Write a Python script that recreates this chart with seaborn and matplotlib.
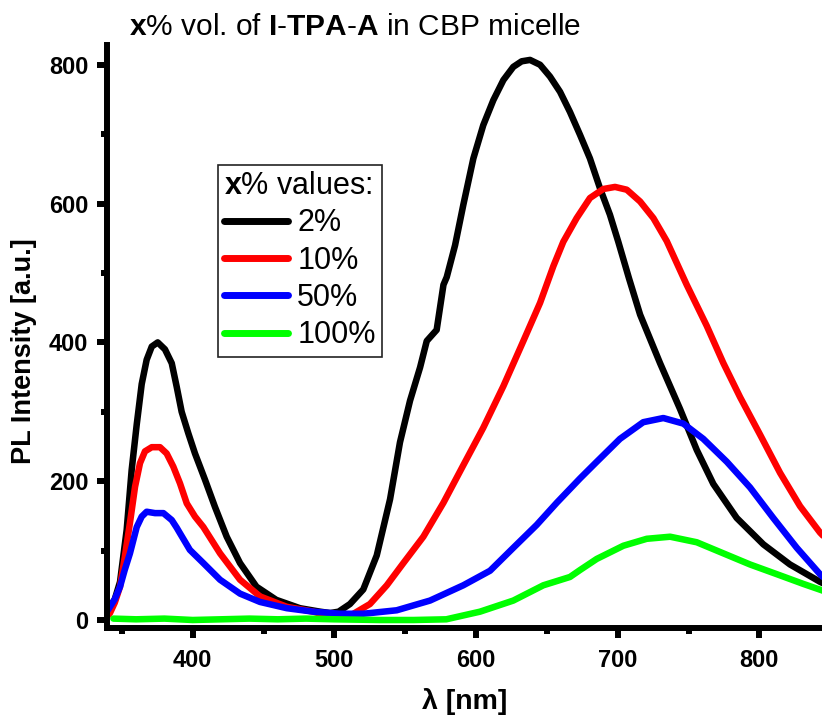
import numpy as np
import pandas as pd
import matplotlib
matplotlib.use("Agg")
import matplotlib.pyplot as plt
import seaborn as sns
from matplotlib.ticker import MultipleLocator
from matplotlib.lines import Line2D

# ---------------- data ----------------
series_labels = ["2%", "10%", "50%", "100%"]
series_colors = ["#000000", "#FF0000", "#0000FF", "#00FF00"]

wl_2 = [340, 341.6, 345, 348.7, 353.4, 356.9, 360.5, 364, 367.5, 371.1, 375.3, 380.4,
        385.2, 388.7, 392.2, 396.9, 401.6, 408.7, 415.7, 424, 433.4, 445, 459, 475.7,
        489.9, 497, 503, 511, 520.4, 529.9, 539.3, 546.3, 553.4, 560.5, 565.2, 572.2,
        577, 579.3, 585.2, 591, 598.1, 605.1, 612.2, 619.3, 626.3, 632.2, 638.1, 645.2,
        652.2, 659.3, 666.3, 673.4, 680.4, 687.5, 694.5, 700.4, 708, 715.8, 729.9, 744,
        755.8, 767.5, 784, 802.8, 821.6, 842.8, 848]
pl_2 = [12, 19, 30, 55, 130, 216, 282, 340, 375, 394, 400, 390,
        370, 336, 300, 269, 240, 202, 163, 120, 82, 48, 29, 17,
        12, 10, 12, 23, 44, 93, 174, 256, 316, 364, 402, 418,
        483, 494, 540, 598, 665, 713, 749, 778, 797, 805, 807, 800,
        783, 761, 732, 699, 665, 622, 584, 545, 492, 440, 370, 304,
        245, 196, 147, 109, 80, 55, 50]

wl_10 = [340, 341.6, 345, 348.7, 352, 355.7, 359.3, 362.8, 366.3, 371.1, 376.9, 381.6,
         386.3, 391, 395.8, 401.6, 407.5, 419.3, 433.4, 447.5, 466.4, 485.1, 496.9, 511,
         525.1, 537, 548.7, 562.8, 577, 591, 605.1, 619.3, 633.4, 645.2, 654.6, 661.6,
         671, 680.4, 689.8, 698.1, 706.4, 715.8, 725.2, 734.6, 748.7, 762.8, 774.6,
         786.4, 800.5, 814.6, 828.7, 842.8, 848]
pl_10 = [6, 10, 25, 48, 90, 140, 192, 226, 243, 249, 249, 240,
         221, 197, 168, 149, 134, 96, 58, 34, 19, 12, 5, 6,
         23, 50, 82, 120, 169, 223, 277, 337, 402, 457, 510, 545,
         579, 608, 621, 624, 620, 603, 579, 546, 483, 424, 370,
         321, 267, 212, 164, 126, 115]

wl_50 = [340, 341.6, 345, 348.7, 352, 355.7, 360.5, 364, 367.5, 373.4, 379.3, 385.2,
         388.7, 391, 398, 407.5, 419.3, 433.4, 447.5, 466.4, 485.1, 504, 520.4, 544,
         567.5, 591, 609.9, 626.3, 642.8, 657, 673.4, 685.2, 701.6, 718, 732.2, 746.3,
         760.4, 777, 793.4, 809.8, 826.4, 842.8, 848]
pl_50 = [14, 19, 30, 48, 72, 96, 134, 149, 156, 154, 154, 144,
         133, 125, 101, 82, 58, 38, 26, 17, 12, 9, 9, 14,
         28, 50, 71, 104, 137, 169, 204, 228, 261, 285, 291, 283,
         261, 228, 191, 147, 104, 66, 56]

wl_100 = [344, 360, 380, 400, 420, 440, 460, 480, 500, 532, 556, 579, 602.8, 626.3,
          647.5, 666.3, 673.4, 685.2, 704, 720.5, 737, 755.8, 774.6, 793.4, 812.3, 831, 848]
pl_100 = [2, 1, 2, 0, 1, 2, 1, 2, 1, 0, 0, 1, 12, 28,
          50, 62, 72, 88, 107, 117, 120, 112, 96, 80, 66, 52, 40]

x_ticks = [400, 500, 600, 700, 800]
y_ticks = [0, 200, 400, 600, 800]

frames = []
for lab, w, p in zip(series_labels, [wl_2, wl_10, wl_50, wl_100], [pl_2, pl_10, pl_50, pl_100]):
    frames.append(pd.DataFrame({"wl": w, "pl": p, "series": lab}))
df = pd.concat(frames, ignore_index=True)

# ---------------- style ----------------
sns.set_theme(style="ticks")
plt.rcParams["font.family"] = ["Liberation Sans", "DejaVu Sans"]
plt.rcParams["mathtext.fontset"] = "custom"
plt.rcParams["mathtext.rm"] = "Liberation Sans"
plt.rcParams["mathtext.bf"] = "Liberation Sans:bold"
plt.rcParams["mathtext.it"] = "Liberation Sans:italic"
plt.rcParams["text.color"] = "black"
plt.rcParams["axes.labelcolor"] = "black"
plt.rcParams["xtick.color"] = "black"
plt.rcParams["ytick.color"] = "black"
plt.rcParams["legend.labelcolor"] = "black"

W, H = 822, 723
fig = plt.figure(figsize=(W / 100, H / 100), dpi=100)
ax_l, ax_r, ax_t, ax_b = 107, 822, 45, 627.7
ax = fig.add_axes([ax_l / W, (H - ax_b) / H, (ax_r - ax_l) / W, (ax_b - ax_t) / H])

palette = dict(zip(series_labels, series_colors))
sns.lineplot(data=df, x="wl", y="pl", hue="series", hue_order=series_labels,
             palette=palette, estimator=None, sort=True, lw=4.7, ax=ax, legend=False,
             solid_joinstyle="round", solid_capstyle="round")

ax.set_xlim(339.5, 844.2)
ax.set_ylim(-11.1, 828.5)
ax.set_xticks(x_ticks)
ax.set_yticks(y_ticks)
ax.xaxis.set_minor_locator(MultipleLocator(50))
ax.yaxis.set_minor_locator(MultipleLocator(100))

for s in ["top", "right"]:
    ax.spines[s].set_visible(False)
for s in ["left", "bottom"]:
    ax.spines[s].set_linewidth(4.3)
    ax.spines[s].set_color("black")

ax.tick_params(which="major", direction="out", length=7.5, width=4.3, color="black",
               labelsize=17, labelcolor="black")
ax.tick_params(which="minor", direction="out", length=4, width=4.3, color="black")
ax.tick_params(axis="x", which="major", pad=8)
ax.tick_params(axis="y", which="major", pad=6)
for lbl in ax.get_xticklabels() + ax.get_yticklabels():
    lbl.set_fontweight("bold")

ax.set_xlabel("λ [nm]", fontsize=20.5, fontweight="bold", color="black")
ax.set_ylabel("PL Intensity [a.u.]", fontsize=19.5, fontweight="bold", color="black")
ax.xaxis.set_label_coords(0.5, -0.1035)
ax.yaxis.set_label_coords(-0.098, 0.475)

fig.text(129 / W, 1 - 35 / H,
         r"$\mathbf{x}$% vol. of $\mathbf{I}$-$\mathbf{TPA}$-$\mathbf{A}$ in CBP micelle",
         ha="left", va="baseline", fontsize=21.5, color="black")

handles = [Line2D([], [], color=c, lw=5, solid_capstyle="round") for c in series_colors]
leg = ax.legend(handles, series_labels, title=r"$\mathbf{x}$% values:",
                loc="upper left", bbox_to_anchor=(217.7 / W, 1 - 165 / H),
                bbox_transform=fig.transFigure, fontsize=22, title_fontsize=22,
                frameon=True, fancybox=False, edgecolor="#222222", framealpha=1,
                borderpad=0.2, borderaxespad=0, handlelength=2.1, handletextpad=0.3,
                labelspacing=0.24, alignment="left", labelcolor="black")
leg.get_title().set_color("black")
leg.get_frame().set_linewidth(1.2)

fig.savefig("out.png", dpi=100, facecolor="white")
